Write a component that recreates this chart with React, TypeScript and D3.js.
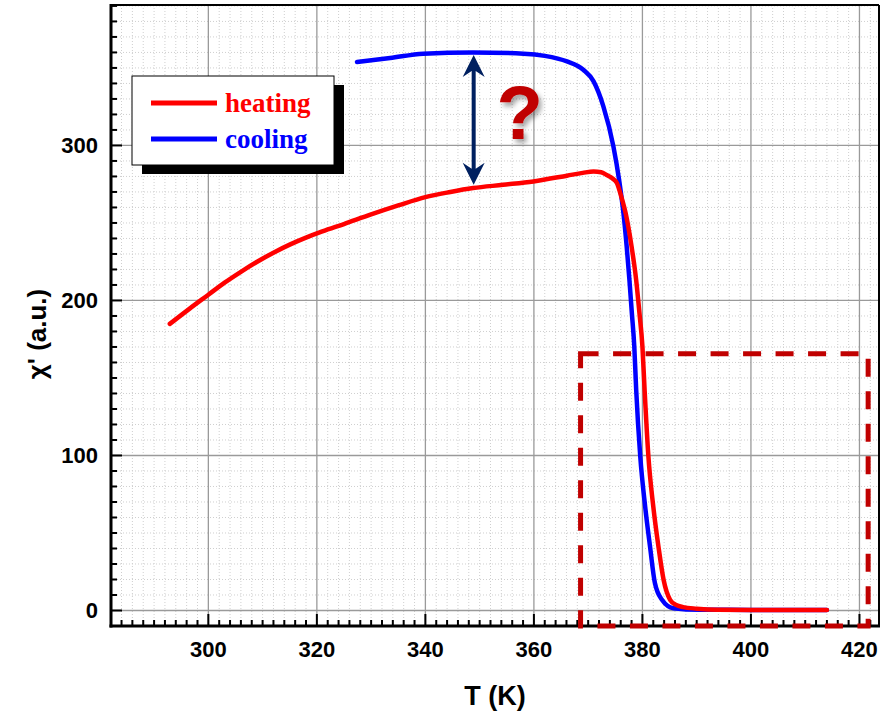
import React from "react";
import * as d3 from "d3";

// Heating branch: temperature (K) and susceptibility chi' (a.u.)
const heatingT = [292.9, 296.5, 300, 303, 306, 309, 312, 315, 318, 321, 325, 330, 335, 340, 344.6, 348.8, 354.3, 359.9, 366.1, 369, 371, 372.4, 373.4, 374.5, 375.3, 376.1, 376.9, 378.0, 378.84, 379.45, 380.0, 380.4, 381.1, 382.0, 382.95, 383.9, 385.1, 386.2, 387.5, 390, 393.8, 400, 407, 414];
const heatingChi = [184.9, 194.6, 203.7, 211.5, 218.5, 225, 230.8, 236, 240.5, 244.5, 249.3, 255.5, 261.3, 266.7, 270, 272.5, 274.6, 276.8, 280.5, 282.3, 283.2, 282.7, 281, 278.7, 275.7, 267, 256.4, 234.8, 213.4, 191.9, 170.3, 142.4, 99.4, 67.1, 41.3, 19.8, 6.9, 3.6, 2.2, 1.2, 0.5, 0.4, 0.4, 0.4];

// Cooling branch
const coolingT = [327.4, 333.5, 339.6, 348.8, 358.1, 362, 366.1, 369.1, 371.0, 372.8, 374.65, 375.7, 376.5, 377.1, 377.6, 378.05, 378.5, 378.85, 379.6, 380.5, 381.4, 382.3, 383.6, 385.7, 390.6, 400, 414];
const coolingChi = [353.8, 356.4, 359.2, 360, 359.2, 357.8, 354.2, 348.8, 341.3, 325.2, 299.4, 277.8, 256.4, 234.8, 213.4, 191.9, 170.3, 142.4, 99.4, 67.1, 41.3, 17.7, 6.9, 1.5, 0.5, 0.4, 0.4];

// Axis ticks
const xMajorTicks = [300, 320, 340, 360, 380, 400, 420];
const yMajorTicks = [0, 100, 200, 300];

// Highlight box (T range, chi range) and gap arrow (T, chi from, chi to)
const boxT = [368.6, 421.6];
const boxChi = [-10, 165.6];
const arrowT = 348.9;
const arrowChi = [358.4, 274.6];
const questionPos = [357.4, 304.3];

const legendItems = [
  { label: "heating", color: "#ff0000" },
  { label: "cooling", color: "#0000ff" },
];

const W = 882;
const H = 715;
const left = 111;
const right = 879;
const top = 5;
const bottom = 626;

export default function App() {
  const x = d3.scaleLinear().domain([282.06, 423.6]).range([left, right]);
  const y = d3.scaleLinear().domain([-10.0, 390.6]).range([bottom, top]);

  const xMinor = d3.range(284, 423.6, 2).filter((v) => v % 20 !== 0);
  const yMinor = d3.range(0, 391, 10).filter((v) => v % 100 !== 0);

  const line = d3
    .line<[number, number]>()
    .x((d) => x(d[0]))
    .y((d) => y(d[1]))
    .curve(d3.curveMonotoneX);

  const heating = heatingT.map((t, i) => [t, heatingChi[i]] as [number, number]);
  const cooling = coolingT.map((t, i) => [t, coolingChi[i]] as [number, number]);

  const sans = "'Liberation Sans', Arial, sans-serif";
  const serif = "'Liberation Serif', 'Times New Roman', serif";

  // double-headed arrow geometry
  const ax = x(arrowT);
  const ay1 = y(arrowChi[0]);
  const ay2 = y(arrowChi[1]);
  const headL = 22;
  const headW = 11;
  const notch = 6;
  const arrowPath =
    `M${ax},${ay1} L${ax + headW},${ay1 + headL} L${ax + 2},${ay1 + headL - notch} ` +
    `L${ax + 2},${ay2 - headL + notch} L${ax + headW},${ay2 - headL} L${ax},${ay2} ` +
    `L${ax - headW},${ay2 - headL} L${ax - 2},${ay2 - headL + notch} ` +
    `L${ax - 2},${ay1 + headL - notch} L${ax - headW},${ay1 + headL} Z`;

  const legX = 132;
  const legY = 76;
  const legW = 202;
  const legH = 89;

  return (
    <svg width={W} height={H} style={{ position: "absolute", left: 0, top: 0 }}>
      <defs>
        <filter id="qshadow" x="-30%" y="-30%" width="160%" height="160%">
          <feDropShadow dx="3" dy="4" stdDeviation="2.5" floodColor="#000" floodOpacity="0.35" />
        </filter>
        <clipPath id="plotClip">
          <rect x={left} y={top} width={right - left} height={bottom - top} />
        </clipPath>
      </defs>
      <rect x={0} y={0} width={W} height={H} fill="#fff" />

      {/* minor grid */}
      <g stroke="#cfcfcf" strokeWidth={1} strokeDasharray="1,2">
        {xMinor.map((v) => (
          <line key={"gx" + v} x1={x(v)} x2={x(v)} y1={top} y2={bottom} />
        ))}
        {yMinor.map((v) => (
          <line key={"gy" + v} x1={left} x2={right} y1={y(v)} y2={y(v)} />
        ))}
      </g>
      {/* major grid */}
      <g stroke="#9a9a9a" strokeWidth={1.3}>
        {xMajorTicks.map((v) => (
          <line key={"Gx" + v} x1={x(v)} x2={x(v)} y1={top} y2={bottom} />
        ))}
        {yMajorTicks.map((v) => (
          <line key={"Gy" + v} x1={left} x2={right} y1={y(v)} y2={y(v)} />
        ))}
      </g>

      {/* data curves */}
      <g clipPath="url(#plotClip)" fill="none" strokeLinecap="round" strokeLinejoin="round">
        <path d={line(cooling) ?? ""} stroke="#0000ff" strokeWidth={4.5} />
        <path d={line(heating) ?? ""} stroke="#ff0000" strokeWidth={4.5} />
      </g>

      {/* frame */}
      <line x1={left} x2={right} y1={top} y2={top} stroke="#000" strokeWidth={2} />
      <line x1={right} x2={right} y1={top} y2={bottom} stroke="#000" strokeWidth={2} />
      <line x1={left} x2={left} y1={top - 1} y2={bottom + 1.5} stroke="#000" strokeWidth={3} />
      <line x1={left - 1.5} x2={right + 1} y1={bottom} y2={bottom} stroke="#000" strokeWidth={3} />

      {/* ticks, pointing inward */}
      <g stroke="#000" strokeWidth={2}>
        {xMajorTicks.map((v) => (
          <line key={"tx" + v} x1={x(v)} x2={x(v)} y1={bottom} y2={bottom - 12} />
        ))}
        {xMinor.map((v) => (
          <line key={"mx" + v} x1={x(v)} x2={x(v)} y1={bottom} y2={bottom - 6} />
        ))}
        {yMajorTicks.map((v) => (
          <line key={"ty" + v} x1={left} x2={left + 11} y1={y(v)} y2={y(v)} />
        ))}
        {yMinor.map((v) => (
          <line key={"my" + v} x1={left} x2={left + 6} y1={y(v)} y2={y(v)} />
        ))}
      </g>

      {/* tick labels */}
      <g fontFamily={sans} fontWeight="bold" fontSize={22} fill="#000">
        {xMajorTicks.map((v) => (
          <text key={"lx" + v} x={x(v)} y={657} textAnchor="middle">
            {v}
          </text>
        ))}
        {yMajorTicks.map((v) => (
          <text key={"ly" + v} x={98} y={y(v) + 8} textAnchor="end">
            {v}
          </text>
        ))}
      </g>

      {/* axis titles */}
      <text x={(left + right) / 2} y={705} textAnchor="middle" fontFamily={sans} fontWeight="bold" fontSize={27}>
        T (K)
      </text>
      <text
        transform={`translate(46, 334) rotate(-90)`}
        textAnchor="middle"
        fontFamily={sans}
        fontWeight="bold"
        fontSize={26}
      >
        χ' (a.u.)
      </text>

      {/* highlight box */}
      <rect
        x={x(boxT[0])}
        y={y(boxChi[1])}
        width={x(boxT[1]) - x(boxT[0])}
        height={y(boxChi[0]) - y(boxChi[1])}
        fill="none"
        stroke="#c00000"
        strokeWidth={5}
        strokeDasharray="18,14.5"
      />

      {/* gap arrow and question mark */}
      <path d={arrowPath} fill="#002060" />
      <text
        x={x(questionPos[0])}
        y={y(questionPos[1])}
        textAnchor="middle"
        fontFamily={sans}
        fontWeight="bold"
        fontSize={76}
        fill="#c00000"
        filter="url(#qshadow)"
      >
        ?
      </text>

      {/* legend */}
      <rect x={legX + 10} y={legY + 9} width={legW} height={legH} fill="#000" />
      <rect x={legX} y={legY} width={legW} height={legH} fill="#fff" stroke="#000" strokeWidth={1} />
      {legendItems.map((item, i) => (
        <g key={item.label}>
          <line
            x1={legX + 19}
            x2={legX + 85}
            y1={legY + 27 + i * 36}
            y2={legY + 27 + i * 36}
            stroke={item.color}
            strokeWidth={5}
          />
          <text
            x={legX + 93}
            y={legY + 36 + i * 36}
            fontFamily={serif}
            fontWeight="bold"
            fontSize={27}
            fill={item.color}
          >
            {item.label}
          </text>
        </g>
      ))}
    </svg>
  );
}
